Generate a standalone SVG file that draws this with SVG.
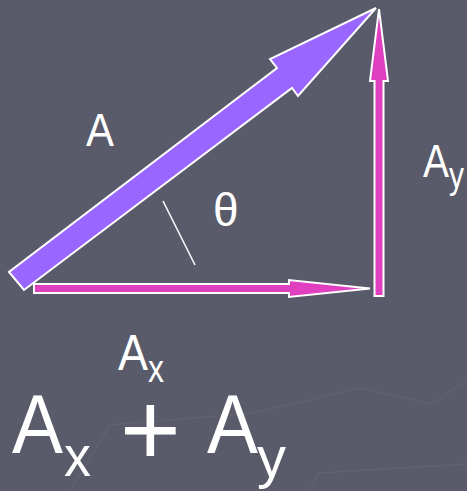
<svg xmlns="http://www.w3.org/2000/svg" width="467" height="491" viewBox="0 0 467 491">
<style>
.bg{fill:#5a5b6a}
.deco{fill:none;stroke:#61626f;stroke-width:1.5}
.vec{stroke:#ffffff;stroke-width:2;stroke-linejoin:miter}
.purple{fill:#9966ff}
.pink{fill:#e040c0}
.t{font-family:"Liberation Sans",Arial,sans-serif;fill:#ffffff}
</style>
<rect class="bg" x="0" y="0" width="467" height="491"/>
<g id="background-lines">
<polyline class="deco" points="70,491 110,425 253,413 360,388 432,404 467,380"/>
<polyline class="deco" points="310,491 318,473 467,464"/>
</g>
<g id="vectors">
<g id="vector-A">
<polygon class="vec purple" points="9,272 24,290 292,88 298,96 376,8 270,59 277,68"/>
</g>
<g id="vector-Ax">
<polygon class="vec pink" points="34,284 289,284 289,280 370,288.5 289,297 289,293 34,293"/>
</g>
<g id="vector-Ay">
<polygon class="vec pink" points="374.5,296 374.5,81 370,81 379,9 388,81 383.5,81 383.5,296"/>
</g>
<g id="angle-mark">
<line x1="163" y1="201" x2="195" y2="265" stroke="#ffffff" stroke-width="1.6"/>
</g>
</g>
<g id="label-A">
<text class="t" x="86" y="146" font-size="47" textLength="28" lengthAdjust="spacingAndGlyphs">A</text>
</g>
<g id="label-theta">
<text class="t" x="213" y="226" font-size="46">θ</text>
</g>
<g id="label-Ay">
<text class="t"><tspan x="423" y="177" font-size="47" textLength="26" lengthAdjust="spacingAndGlyphs">A</tspan><tspan x="449" y="188" font-size="36" textLength="15" lengthAdjust="spacingAndGlyphs">y</tspan></text>
</g>
<g id="label-Ax">
<text class="t"><tspan x="118" y="370" font-size="50" textLength="30" lengthAdjust="spacingAndGlyphs">A</tspan><tspan x="148" y="382" font-size="38" textLength="16" lengthAdjust="spacingAndGlyphs">x</tspan></text>
</g>
<g id="equation">
<text class="t"><tspan x="12" y="453" font-size="84" textLength="51" lengthAdjust="spacingAndGlyphs">A</tspan><tspan x="64" y="476" font-size="58" textLength="27" lengthAdjust="spacingAndGlyphs">x</tspan></text>
<text class="t" x="120" y="465" font-size="104">+</text>
<text class="t"><tspan x="207" y="453" font-size="84" textLength="51" lengthAdjust="spacingAndGlyphs">A</tspan><tspan x="257" y="477" font-size="58" textLength="29" lengthAdjust="spacingAndGlyphs">y</tspan></text>
</g>
</svg>
